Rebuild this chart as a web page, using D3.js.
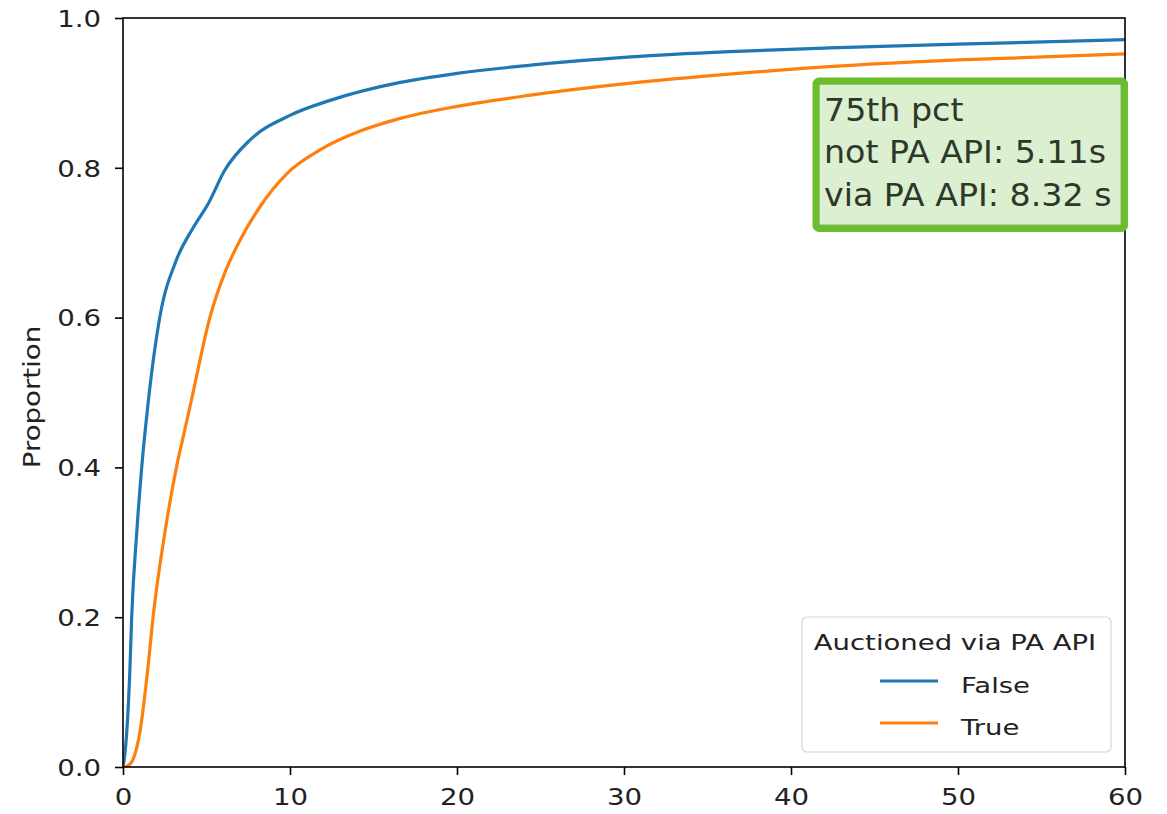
<!DOCTYPE html>
<html>
<head>
<meta charset="utf-8">
<script src="https://cdn.jsdelivr.net/npm/d3@7/dist/d3.min.js"></script>
<style>
  html, body { margin: 0; padding: 0; background: #fff; }
  svg { display: block; font-family: "DejaVu Sans", sans-serif; }
</style>
</head>
<body>
<svg id="chart" width="1167" height="814"></svg>
<script>
// ---- data ----
const seriesNames = ["False", "True"];
const falseT = [0, 0.1, 0.22, 0.42, 0.52, 0.82, 1.12, 1.5, 2.2, 3.2, 4.2, 5.1, 6.1, 7.6, 10, 12.4, 16.6, 20, 24.4, 30.4, 36.3, 42.3, 50, 60];
const falseP = [0, 0.015, 0.045, 0.134, 0.2, 0.312, 0.4, 0.485, 0.6, 0.677, 0.72, 0.752, 0.797, 0.837, 0.87, 0.89, 0.914, 0.926, 0.937, 0.948, 0.955, 0.96, 0.965, 0.971];
const trueT = [0, 0.3, 0.6, 1.0, 1.5, 1.8, 2.5, 3.2, 3.7, 4.1, 5.2, 6.1, 7.0, 8.2, 9.8, 11.8, 14.2, 16.6, 20, 24.4, 30.4, 36.3, 42.3, 50, 60];
const trueP = [0, 0.002, 0.01, 0.045, 0.134, 0.2, 0.312, 0.4, 0.45, 0.49, 0.6, 0.66, 0.703, 0.748, 0.792, 0.824, 0.849, 0.866, 0.882, 0.897, 0.913, 0.925, 0.935, 0.944, 0.952];
const xTicks = [0, 10, 20, 30, 40, 50, 60];
const yTicks = [0.0, 0.2, 0.4, 0.6, 0.8, 1.0];
const yLabel = "Proportion";
const legendTitle = "Auctioned via PA API";
const annotationLines = ["75th pct", "not PA API: 5.11s", "via PA API: 8.32 s"];
const colors = ["#1f77b4", "#ff7f0e"];

// ---- layout ----
const L = 123, R = 1125, T = 18, B = 767;
const svg = d3.select("#chart");
const x = d3.scaleLinear().domain([0, 60]).range([L, R]);
const y = d3.scaleLinear().domain([0, 1]).range([B, T]);
const SX = 1.2;   // horizontal glyph stretch seen in the reference
const tickFont = 23;

// lines
const line = d3.line().x(d => x(d[0])).y(d => y(d[1])).curve(d3.curveMonotoneX);
const series = [
  falseT.map((t, i) => [t, falseP[i]]),
  trueT.map((t, i) => [t, trueP[i]])
];
svg.append("defs").append("clipPath").attr("id", "clip")
  .append("rect").attr("x", L).attr("y", T).attr("width", R - L).attr("height", B - T);
const gLines = svg.append("g").attr("clip-path", "url(#clip)");
series.forEach((s, i) => {
  gLines.append("path").datum(s)
    .attr("d", line).attr("fill", "none")
    .attr("stroke", colors[i]).attr("stroke-width", 3.2)
    .attr("stroke-linejoin", "round").attr("stroke-linecap", "butt");
});

// axes
const xAxis = d3.axisBottom(x).tickValues(xTicks).tickFormat(d3.format("d")).tickSize(8).tickSizeOuter(0);
const gx = svg.append("g").attr("transform", `translate(0,${B})`).call(xAxis);
gx.select(".domain").remove();
gx.selectAll(".tick line").attr("stroke", "#000").attr("stroke-width", 1.6);
gx.selectAll(".tick text")
  .attr("font-size", tickFont).attr("font-family", "DejaVu Sans").attr("fill", "#222")
  .attr("y", 38).attr("dy", null)
  .attr("transform", `scale(${SX},1)`);

const yAxis = d3.axisLeft(y).tickValues(yTicks).tickFormat(d3.format(".1f")).tickSize(8).tickSizeOuter(0);
const gy = svg.append("g").attr("transform", `translate(${L},0)`).call(yAxis);
gy.select(".domain").remove();
gy.selectAll(".tick line").attr("stroke", "#000").attr("stroke-width", 1.6);
gy.selectAll(".tick text")
  .attr("font-size", tickFont).attr("font-family", "DejaVu Sans").attr("fill", "#222")
  .attr("x", -22 / SX).attr("dy", "0.36em")
  .attr("transform", `scale(${SX},1)`);

// spines
svg.append("rect").attr("x", L).attr("y", T).attr("width", R - L).attr("height", B - T)
  .attr("fill", "none").attr("stroke", "#000").attr("stroke-width", 1.6);

// y label
svg.append("g").attr("transform", `translate(40,397) rotate(-90) scale(${SX},1)`)
  .append("text").attr("text-anchor", "middle").attr("font-size", tickFont)
  .attr("fill", "#222").text(yLabel);

// legend
const lg = svg.append("g");
lg.append("rect").attr("x", 802).attr("y", 617).attr("width", 309).attr("height", 135)
  .attr("rx", 5).attr("fill", "#fff").attr("fill-opacity", 0.85)
  .attr("stroke", "#d5d5d5").attr("stroke-width", 1.2);
lg.append("g").attr("transform", `translate(955,650) scale(1.25,1)`)
  .append("text").attr("text-anchor", "middle").attr("font-size", 22).attr("fill", "#222").text(legendTitle);
const entryY = [681, 723];
const entryBase = [693, 735];
seriesNames.forEach((name, i) => {
  lg.append("line").attr("x1", 880).attr("x2", 938).attr("y1", entryY[i]).attr("y2", entryY[i])
    .attr("stroke", colors[i]).attr("stroke-width", 3.2);
  lg.append("g").attr("transform", `translate(961,${entryBase[i]}) scale(1.25,1)`)
    .append("text").attr("font-size", 22).attr("fill", "#222").text(name);
});

// annotation box
const an = svg.append("g");
an.append("rect").attr("x", 819).attr("y", 84).attr("width", 302).attr("height", 141)
  .attr("fill", "#dcefd1").attr("stroke", "#9aa596").attr("stroke-width", 1);
an.append("rect").attr("x", 816).attr("y", 81).attr("width", 308.5).attr("height", 147.5)
  .attr("rx", 3).attr("fill", "none").attr("stroke", "#6cbd2c").attr("stroke-width", 7);
const annBase = [121, 163, 206];
annotationLines.forEach((s, i) => {
  an.append("g").attr("transform", `translate(824,${annBase[i]}) scale(1.04,1)`)
    .append("text").attr("font-size", 32).attr("fill", "#2c3828").text(s);
});
</script>
</body>
</html>
